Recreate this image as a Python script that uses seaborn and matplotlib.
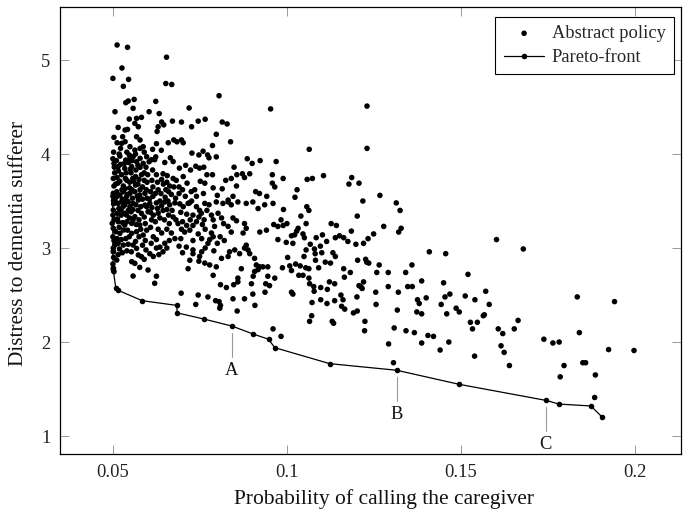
import matplotlib
matplotlib.use("Agg")
import matplotlib.pyplot as plt
import seaborn as sns
import pandas as pd

# ---------------- data ----------------
# scatter "Abstract policy", grouped by region of the plot (x, y)
top_left = [
    (0.0512, 5.16), (0.0542, 5.135), (0.0526, 4.915), (0.0500, 4.805), (0.0545, 4.794),
    (0.0530, 4.72), (0.0537, 4.546), (0.0544, 4.564), (0.0561, 4.581), (0.0506, 4.45),
    (0.0558, 4.486), (0.0604, 4.45), (0.0547, 4.372), (0.0568, 4.379), (0.0582, 4.39),
    (0.0563, 4.326), (0.0573, 4.29), (0.0515, 4.283), (0.0535, 4.255), (0.0542, 4.262),
    (0.0528, 4.184), (0.0503, 4.177), (0.0525, 4.113), (0.0535, 4.131), (0.0568, 4.184),
    (0.0578, 4.149), (0.0549, 4.078), (0.0563, 4.042), (0.0578, 4.06), (0.0587, 4.078),
    (0.0522, 4.06), (0.0520, 3.978), (0.0537, 3.936), (0.0549, 3.954), (0.0558, 3.971),
    (0.0568, 3.918), (0.0578, 3.954), (0.0587, 3.90), (0.0597, 3.971), (0.0604, 3.918),
    (0.0503, 3.90), (0.0515, 3.865), (0.0534, 3.847), (0.0554, 3.865), (0.0578, 3.858),
    (0.0505, 3.80), (0.0512, 3.75), (0.0525, 3.78), (0.0540, 3.72), (0.0552, 3.80),
    (0.0565, 3.76), (0.0590, 3.80), (0.0598, 3.70), (0.0508, 3.68), (0.0530, 3.66),
    (0.0548, 3.64), (0.0572, 3.68), (0.0585, 3.65), (0.0560, 3.71), (0.0520, 3.71),
]
top_mid = [
    (0.0654, 5.03), (0.0652, 4.75), (0.0669, 4.74), (0.0805, 4.62), (0.0719, 4.49),
    (0.0623, 4.56), (0.0633, 4.43), (0.0953, 4.48), (0.0640, 4.34), (0.0646, 4.31),
    (0.0630, 4.29), (0.0627, 4.24), (0.0671, 4.35), (0.0697, 4.34), (0.0745, 4.35),
    (0.0765, 4.37), (0.0726, 4.29), (0.0814, 4.34), (0.0828, 4.32), (0.0797, 4.21),
    (0.0838, 4.13), (0.0625, 4.11), (0.0614, 4.05), (0.0659, 4.12), (0.0675, 4.15),
    (0.0684, 4.13), (0.0697, 4.15), (0.0702, 4.12), (0.0639, 4.04), (0.0623, 3.97),
    (0.0611, 3.94), (0.0620, 3.94), (0.0665, 3.96), (0.0673, 3.92), (0.0727, 4.01),
    (0.0747, 3.99), (0.0759, 4.03), (0.0772, 3.99), (0.0776, 3.96), (0.0786, 4.09),
    (0.0797, 3.97), (0.0886, 3.95), (0.0900, 3.90), (0.0923, 3.93), (0.0969, 3.92),
    (0.0848, 3.86), (0.0649, 3.91), (0.0691, 3.85), (0.0709, 3.88), (0.0723, 3.83),
    (0.0738, 3.87), (0.0749, 3.85), (0.0761, 3.86), (0.0770, 3.78), (0.0786, 3.78),
    (0.0824, 3.72), (0.0840, 3.74), (0.0856, 3.78), (0.0872, 3.79), (0.0878, 3.75),
    (0.0893, 3.79), (0.0910, 3.60), (0.0921, 3.58), (0.0958, 3.78), (0.0958, 3.69),
    (0.0965, 3.65), (0.0942, 3.55), (0.0855, 3.66), (0.0814, 3.63), (0.0788, 3.64),
    (0.0751, 3.71), (0.0764, 3.69), (0.0713, 3.69), (0.0702, 3.76), (0.0673, 3.74),
    (0.0682, 3.72), (0.0644, 3.79), (0.0656, 3.77), (0.0614, 3.83), (0.0625, 3.78),
    (0.0845, 3.55), (0.0831, 3.51), (0.0615, 3.65), (0.0630, 3.62), (0.0645, 3.68),
    (0.0660, 3.60), (0.0675, 3.65), (0.0690, 3.58), (0.0700, 3.62), (0.0725, 3.60),
    (0.0740, 3.55), (0.0615, 3.55), (0.0650, 3.54), (0.0680, 3.53), (0.0760, 3.58),
    (0.0800, 3.56),
]
left_band = [
    (0.0501, 3.582), (0.0511, 3.599), (0.0520, 3.564), (0.0530, 3.599), (0.0539, 3.546),
    (0.0549, 3.582), (0.0563, 3.599), (0.0577, 3.564), (0.0592, 3.582), (0.0506, 3.511),
    (0.0515, 3.475), (0.0525, 3.493), (0.0534, 3.457), (0.0544, 3.493), (0.0558, 3.475),
    (0.0573, 3.511), (0.0592, 3.457), (0.0501, 3.404), (0.0513, 3.369), (0.0523, 3.404),
    (0.0539, 3.351), (0.0552, 3.386), (0.0563, 3.333), (0.0582, 3.369), (0.0601, 3.386),
    (0.0498, 3.262), (0.0515, 3.28), (0.0534, 3.245), (0.0554, 3.262), (0.0577, 3.245),
    (0.0508, 3.174), (0.0520, 3.156), (0.0530, 3.191), (0.0554, 3.156), (0.0568, 3.174),
    (0.0587, 3.138), (0.0506, 3.032), (0.0515, 3.05), (0.0530, 3.032), (0.0558, 3.032),
    (0.0568, 2.996), (0.0573, 2.926), (0.0582, 2.908), (0.0501, 2.961), (0.0511, 2.872),
    (0.0554, 2.855), (0.0563, 2.837), (0.0577, 2.794), (0.0601, 2.766), (0.0501, 2.784),
    (0.0503, 2.748), (0.0558, 2.702),
]
dense_core = [
    (0.0502, 4.02), (0.0500, 3.95), (0.0504, 3.86), (0.0501, 3.74), (0.0503, 3.66),
    (0.0500, 3.55), (0.0502, 3.47), (0.0500, 3.35), (0.0503, 3.30), (0.0501, 3.21),
    (0.0500, 3.12), (0.0503, 3.08), (0.0501, 3.00), (0.0502, 2.90), (0.0500, 2.83),
    (0.0512, 4.12), (0.0518, 4.00), (0.0510, 3.93), (0.0516, 3.82), (0.0522, 3.89),
    (0.0514, 3.69), (0.0526, 3.62), (0.0512, 3.55), (0.0527, 3.52), (0.0517, 3.42),
    (0.0529, 3.44), (0.0513, 3.31), (0.0524, 3.35), (0.0518, 3.22), (0.0528, 3.27),
    (0.0512, 3.10), (0.0524, 3.09), (0.0519, 2.99), (0.0527, 2.95), (0.0515, 2.93),
    (0.0540, 4.02), (0.0547, 3.99), (0.0533, 3.90), (0.0545, 3.91), (0.0555, 3.93),
    (0.0538, 3.80), (0.0550, 3.84), (0.0536, 3.74), (0.0548, 3.70), (0.0557, 3.74),
    (0.0535, 3.63), (0.0555, 3.62), (0.0542, 3.57), (0.0556, 3.53), (0.0537, 3.50),
    (0.0549, 3.44), (0.0544, 3.40), (0.0557, 3.41), (0.0533, 3.37), (0.0548, 3.32),
    (0.0540, 3.28), (0.0558, 3.30), (0.0542, 3.19), (0.0547, 3.12), (0.0537, 3.10),
    (0.0544, 3.04), (0.0540, 2.97), (0.0553, 2.96), (0.0565, 4.00), (0.0590, 4.02),
    (0.0572, 3.88), (0.0595, 3.86), (0.0566, 3.83), (0.0582, 3.78), (0.0600, 3.78),
    (0.0575, 3.73), (0.0590, 3.72), (0.0565, 3.67), (0.0578, 3.62), (0.0596, 3.62),
    (0.0570, 3.55), (0.0585, 3.52), (0.0598, 3.53), (0.0566, 3.46), (0.0580, 3.44),
    (0.0597, 3.44), (0.0572, 3.40), (0.0590, 3.33), (0.0575, 3.30), (0.0567, 3.25),
    (0.0593, 3.26), (0.0580, 3.20), (0.0597, 3.19), (0.0575, 3.12), (0.0593, 3.08),
    (0.0585, 3.03), (0.0565, 3.07), (0.0595, 2.98), (0.0590, 2.88), (0.0612, 3.72),
    (0.0628, 3.70), (0.0640, 3.73), (0.0655, 3.70), (0.0663, 3.66), (0.0608, 3.60),
    (0.0622, 3.58), (0.0638, 3.58), (0.0652, 3.62), (0.0668, 3.57), (0.0605, 3.52),
    (0.0635, 3.50), (0.0658, 3.50), (0.0612, 3.43), (0.0628, 3.42), (0.0640, 3.45),
    (0.0655, 3.41), (0.0670, 3.40), (0.0608, 3.38), (0.0622, 3.28), (0.0648, 3.30),
    (0.0660, 3.35), (0.0662, 3.26), (0.0608, 3.22), (0.0630, 3.20), (0.0640, 3.16),
    (0.0655, 3.20), (0.0610, 3.05), (0.0625, 3.00), (0.0655, 3.00), (0.0662, 3.08),
    (0.0632, 2.93), (0.0690, 3.65), (0.0708, 3.55), (0.0720, 3.48), (0.0735, 3.62),
    (0.0695, 3.38), (0.0712, 3.36), (0.0722, 3.30), (0.0700, 3.28), (0.0712, 3.24),
    (0.0730, 3.24), (0.0757, 3.25), (0.0765, 3.20), (0.0762, 3.30), (0.0770, 3.40),
    (0.0745, 3.15), (0.0755, 3.10), (0.0730, 3.08), (0.0695, 3.10), (0.0690, 3.02),
    (0.0700, 2.95), (0.0765, 3.00), (0.0755, 2.96), (0.0790, 2.97), (0.0800, 3.05),
    (0.0808, 3.12), (0.0820, 3.08),
]
mid_left = [
    (0.0606, 3.475), (0.0625, 3.48), (0.0649, 3.49), (0.0663, 3.46), (0.0678, 3.48),
    (0.0692, 3.47), (0.0702, 3.44), (0.0716, 3.475), (0.0726, 3.50), (0.0740, 3.44),
    (0.0749, 3.40), (0.0764, 3.475), (0.0776, 3.46), (0.0797, 3.49), (0.0816, 3.475),
    (0.0831, 3.49), (0.0840, 3.46), (0.0859, 3.49), (0.0883, 3.475), (0.0902, 3.49),
    (0.0917, 3.42), (0.0936, 3.46), (0.0960, 3.475), (0.0616, 3.35), (0.0630, 3.37),
    (0.0644, 3.40), (0.0611, 3.30), (0.0635, 3.32), (0.0673, 3.33), (0.0681, 3.30),
    (0.0687, 3.26), (0.0697, 3.20), (0.0706, 3.17), (0.0721, 3.19), (0.0730, 3.35),
    (0.0747, 3.33), (0.0754, 3.37), (0.0740, 3.28), (0.0783, 3.35), (0.0788, 3.30),
    (0.0792, 3.23), (0.0783, 3.16), (0.0778, 3.09), (0.0788, 3.12), (0.0773, 3.05),
    (0.0802, 3.37), (0.0812, 3.32), (0.0818, 3.26), (0.0831, 3.23), (0.0840, 3.17),
    (0.0845, 3.32), (0.0855, 3.29), (0.0878, 3.26), (0.0874, 3.16), (0.0883, 3.21),
    (0.0922, 3.17), (0.0941, 3.19), (0.0962, 3.25), (0.0974, 3.23), (0.0974, 3.09),
    (0.0616, 3.12), (0.0625, 3.09), (0.0635, 3.01), (0.0649, 3.05), (0.0644, 2.96),
    (0.0606, 2.94), (0.0616, 2.91), (0.0678, 3.10), (0.0668, 3.16), (0.0711, 3.01),
    (0.0730, 2.98), (0.0730, 2.94), (0.0749, 2.91), (0.0747, 2.86), (0.0721, 2.87),
    (0.0716, 2.78), (0.0764, 2.84), (0.0778, 2.82), (0.0797, 2.80), (0.0788, 2.71),
    (0.0812, 2.89), (0.0831, 2.91), (0.0835, 2.96), (0.0850, 2.98), (0.0864, 2.94),
    (0.0878, 3.00), (0.0883, 3.03), (0.0888, 2.98), (0.0893, 2.94), (0.0907, 2.89),
    (0.0912, 2.82), (0.0917, 2.77), (0.0907, 2.75), (0.0922, 2.80), (0.0931, 2.80),
    (0.0945, 2.80), (0.0945, 2.70), (0.0965, 2.68), (0.0869, 2.78), (0.0859, 2.68),
    (0.0903, 2.70), (0.0625, 2.70), (0.0620, 2.625),
]
low_mid = [
    (0.0696, 2.52), (0.0745, 2.50), (0.0738, 2.40), (0.0773, 2.48), (0.0795, 2.44),
    (0.0805, 2.43), (0.0809, 2.39), (0.0807, 2.36), (0.0809, 2.61), (0.0826, 2.58),
    (0.0847, 2.61), (0.0859, 2.64), (0.0845, 2.46), (0.0857, 2.33), (0.0878, 2.46),
    (0.0898, 2.62), (0.0902, 2.51), (0.0908, 2.39), (0.0937, 2.53), (0.0939, 2.62),
    (0.0950, 2.60), (0.0960, 2.14), (0.0983, 2.06), (0.1065, 2.22), (0.1130, 2.22),
    (0.1134, 2.20), (0.1224, 2.22), (0.1223, 2.12), (0.1308, 2.15), (0.1292, 1.98),
    (0.1306, 1.78),
]
mid_right = [
    (0.1230, 4.51), (0.1064, 4.05), (0.1230, 4.06), (0.0989, 3.74), (0.1058, 3.73),
    (0.1073, 3.74), (0.1105, 3.77), (0.1186, 3.75), (0.1178, 3.68), (0.1207, 3.69),
    (0.1029, 3.62), (0.1023, 3.54), (0.1267, 3.56), (0.1218, 3.50), (0.1314, 3.48),
    (0.1325, 3.40), (0.0990, 3.41), (0.1057, 3.44), (0.1063, 3.40), (0.1040, 3.34),
    (0.1202, 3.34), (0.0983, 3.30), (0.1000, 3.26), (0.0989, 3.24), (0.1055, 3.26),
    (0.1127, 3.26), (0.1142, 3.24), (0.1278, 3.23), (0.1328, 3.21), (0.1321, 3.17),
    (0.1185, 3.18), (0.1249, 3.15), (0.1233, 3.10), (0.1220, 3.05), (0.1198, 3.04),
    (0.1175, 3.07), (0.1163, 3.11), (0.1151, 3.13), (0.1139, 3.11), (0.1102, 3.14),
    (0.1084, 3.11), (0.1114, 3.07), (0.1032, 3.21), (0.1028, 3.18), (0.1013, 3.13),
    (0.1022, 3.14), (0.1017, 3.05), (0.0998, 3.06), (0.1046, 3.15), (0.1050, 3.11),
    (0.1067, 3.04), (0.1079, 2.99), (0.1096, 3.02), (0.1055, 2.98), (0.1049, 2.91),
    (0.1081, 2.94), (0.1100, 2.95), (0.1132, 2.95), (0.1139, 2.91), (0.1082, 2.87),
    (0.1110, 2.85), (0.1125, 2.84), (0.1002, 2.90), (0.1025, 2.83), (0.1038, 2.81),
    (0.1054, 2.79), (0.1063, 2.78), (0.0987, 2.79), (0.1008, 2.81), (0.1013, 2.76),
    (0.1034, 2.71), (0.1046, 2.71), (0.1063, 2.68), (0.1065, 2.62), (0.1091, 2.79),
    (0.1163, 2.78), (0.1165, 2.69), (0.1182, 2.74), (0.1203, 2.87), (0.1226, 2.88),
    (0.1229, 2.85), (0.1235, 2.84), (0.1220, 2.64), (0.1212, 2.59), (0.1216, 2.57),
    (0.1207, 2.60), (0.1265, 2.82), (0.1258, 2.74), (0.1291, 2.74), (0.1341, 2.74),
    (0.1359, 2.82), (0.1409, 2.96), (0.1456, 2.94), (0.1387, 2.65), (0.1347, 2.59),
    (0.1360, 2.59), (0.1291, 2.59), (0.1255, 2.53), (0.1320, 2.53), (0.1450, 2.63),
    (0.1520, 2.72), (0.1122, 2.64), (0.1137, 2.62), (0.1077, 2.59), (0.1078, 2.54),
    (0.1097, 2.58), (0.1116, 2.56), (0.1013, 2.53), (0.1017, 2.51), (0.1072, 2.42),
    (0.1097, 2.45), (0.1115, 2.41), (0.1137, 2.44), (0.1155, 2.50), (0.1161, 2.45),
    (0.1157, 2.38), (0.1166, 2.35), (0.1201, 2.48), (0.1191, 2.31), (0.1202, 2.33),
    (0.1256, 2.40), (0.1317, 2.34), (0.1373, 2.32), (0.1387, 2.30), (0.1375, 2.45),
    (0.1380, 2.41), (0.1400, 2.47), (0.1443, 2.40), (0.1454, 2.48), (0.1468, 2.51),
    (0.1486, 2.36), (0.1495, 2.32), (0.1512, 2.49), (0.1540, 2.45), (0.1459, 2.30),
    (0.1071, 2.28),
]
right = [
    (0.1602, 3.09), (0.1679, 2.99), (0.1571, 2.54), (0.1581, 2.40), (0.1564, 2.28),
    (0.1567, 2.29), (0.1527, 2.21), (0.1547, 2.21), (0.1533, 2.14), (0.1607, 2.14),
    (0.1620, 2.09), (0.1653, 2.14), (0.1664, 2.23), (0.1615, 1.96), (0.1624, 1.89),
    (0.1639, 1.75), (0.1539, 1.85), (0.1738, 2.03), (0.1764, 1.99), (0.1782, 2.00),
    (0.1834, 2.48), (0.1941, 2.43), (0.1840, 2.10), (0.1924, 1.92), (0.1997, 1.91),
    (0.1796, 1.75), (0.1785, 1.63), (0.1850, 1.78), (0.1858, 1.78), (0.1886, 1.65),
    (0.1884, 1.41), (0.1387, 1.99), (0.1405, 2.07), (0.1421, 2.06), (0.1440, 1.915),
    (0.1465, 2.00), (0.1366, 2.10), (0.1342, 2.12),
]

# Pareto front (in order)
front_x = [0.0499, 0.0500, 0.0501, 0.0501, 0.0508, 0.0515, 0.0584, 0.0683, 0.0685,
           0.0761, 0.0842, 0.0903, 0.0947, 0.0965, 0.1123, 0.1315, 0.1495, 0.1743,
           0.1782, 0.1873, 0.1906]
front_y = [3.51, 2.97, 2.79, 2.77, 2.58, 2.55, 2.44, 2.39, 2.31,
           2.245, 2.17, 2.085, 2.03, 1.94, 1.77, 1.70, 1.55, 1.38,
           1.34, 1.32, 1.20]

# labelled points on the front
label_names = ["A", "B", "C"]
label_index = [10, 15, 17]

x_ticks = [0.05, 0.1, 0.15, 0.2]
x_tick_labels = ["0.05", "0.1", "0.15", "0.2"]
y_ticks = [1, 2, 3, 4, 5]

# ---------------- plot ----------------
sns.set_theme(style="ticks")
plt.rcParams['font.family'] = ['Liberation Serif', 'DejaVu Serif']

pts = top_left + top_mid + left_band + dense_core + mid_left + low_mid + mid_right + right
df = pd.DataFrame(pts, columns=["x", "y"])
front = pd.DataFrame({"x": front_x, "y": front_y})

fig = plt.figure(figsize=(6.83, 5.09), dpi=100)
ax = fig.add_axes([60 / 683, 55 / 509, 621 / 683, 447 / 509])

sns.scatterplot(data=df, x="x", y="y", ax=ax, s=16, color="black",
                edgecolor="none", linewidth=0, label="Abstract policy", zorder=3)
sns.lineplot(data=front, x="x", y="y", ax=ax, sort=False, estimator=None,
             color="black", linewidth=0.9, marker="o", markersize=4,
             markeredgewidth=0, label="Pareto-front", zorder=4)

for name, idx in zip(label_names, label_index):
    px, py = front_x[idx], front_y[idx]
    ax.plot([px, px], [py - 0.075, py - 0.33], color="#999999", lw=0.8, zorder=2)
    ax.text(px, py - 0.47, name, ha="center", va="center", fontsize=13.3,
            color="#111111")

ax.set_xlim(0.0348, 0.2132)
ax.set_ylim(0.809, 5.564)
ax.set_xticks(x_ticks)
ax.set_xticklabels(x_tick_labels)
ax.set_yticks(y_ticks)
ax.tick_params(direction="in", length=6.5, width=0.7, color="#999999",
               top=True, right=True, labelsize=13.3, pad=7, labelcolor="#222222")
for sp in ax.spines.values():
    sp.set_linewidth(0.9)
    sp.set_color("black")

ax.set_xlabel("Probability of calling the caregiver", fontsize=15.5, color="#111111")
ax.set_ylabel("Distress to dementia sufferer", fontsize=15.3, color="#111111")
ax.xaxis.set_label_coords(0.522, -0.079)
ax.yaxis.set_label_coords(-0.051, 0.472)

leg = ax.legend(loc="upper right", bbox_to_anchor=(0.9887, 0.978), fontsize=13.3,
                frameon=True, fancybox=False, edgecolor="black", framealpha=1,
                borderaxespad=0, handlelength=2.2, handletextpad=0.4,
                borderpad=0.45, labelspacing=0.38)
leg.get_frame().set_linewidth(0.8)

fig.savefig("out.png", dpi=100)
